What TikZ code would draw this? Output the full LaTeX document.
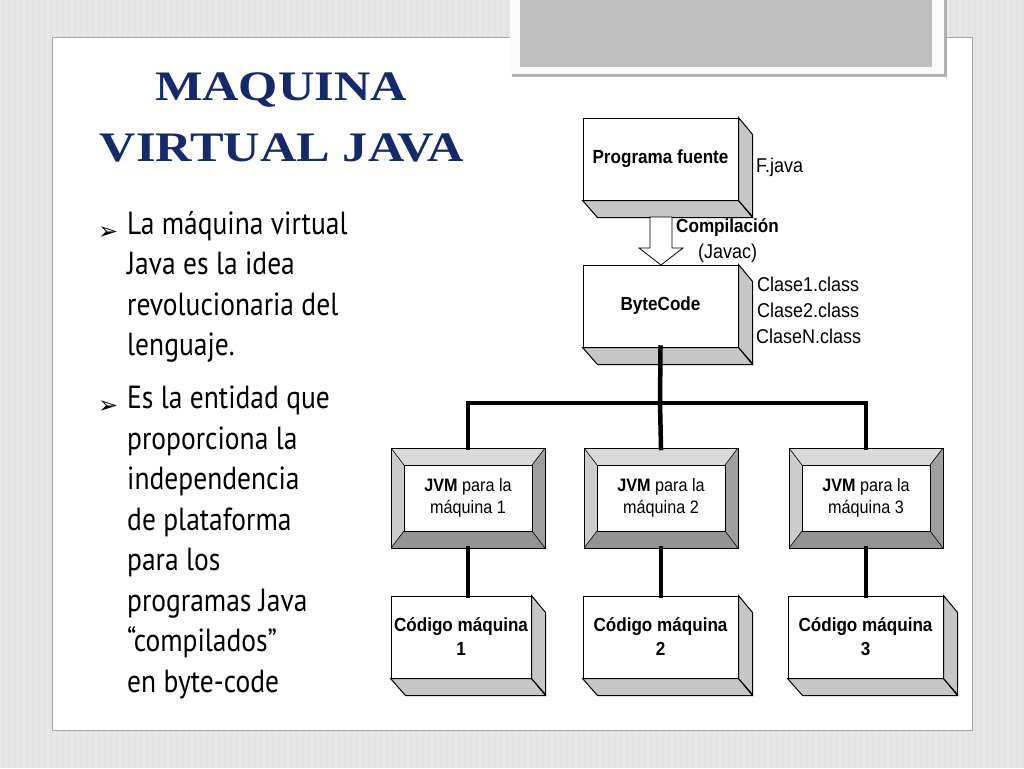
\documentclass[tikz,border=0pt]{standalone}
\usepackage{fontspec}
\setmainfont{Liberation Sans}
\newfontfamily\titlefont[FakeStretch=1.2]{Liberation Serif}
\newfontfamily\bulletfont[FakeStretch=0.86]{PT Sans}
\newfontfamily\narrowfont[FakeStretch=0.9]{Liberation Sans}
\newfontfamily\symfont{DejaVu Sans}
\usetikzlibrary{positioning, calc}
\definecolor{navy}{HTML}{142A6B}
\tikzstyle{frontbox} = [rectangle, draw=black, fill=white, line width=1pt, inner sep=0pt, font=\narrowfont\bfseries\fontsize{19}{24}\selectfont, align=center]
\tikzstyle{sideface} = [draw=black, fill=gray!45, line width=1pt]
\tikzstyle{bus} = [line width=4.5pt, line cap=rect]
\tikzstyle{note} = [font=\narrowfont\fontsize{20}{22}\selectfont, inner sep=0pt, anchor=west]
\tikzstyle{bullettext} = [font=\bulletfont\fontsize{32}{40.5}\selectfont, text=black, align=left, anchor=north west, inner sep=0pt]
% extruded box: name, front corners, depth
\newcommand{\cubebox}[6]{%
  \node (#1) [frontbox, minimum width=#4-#2, minimum height=#5-#3] at ({(#2+#4)/2},{(#3+#5)/2}) {#6};
  \draw [sideface] (#1.south west) -- (#1.south east) -- ++(14,17) -- ++(-#4+#2,0) -- cycle;
  \draw [sideface] (#1.north east) -- ++(14,17) -- ++(0,#5-#3) -- (#1.south east) -- cycle;}
% bevelled frame box
\newcommand{\bevelbox}[6]{%
  \coordinate (#1o1) at (#2,#3); \coordinate (#1o2) at (#4,#5);
  \fill [gray!30] (#2,#3) -- (#4,#3) -- (#4-13,#3+17) -- (#2+13,#3+17) -- cycle;
  \fill [gray!40] (#2,#3) -- (#2+13,#3+17) -- (#2+13,#5-17) -- (#2,#5) -- cycle;
  \fill [gray!75] (#4,#3) -- (#4,#5) -- (#4-13,#5-17) -- (#4-13,#3+17) -- cycle;
  \fill [gray!85] (#2,#5) -- (#4,#5) -- (#4-13,#5-17) -- (#2+13,#5-17) -- cycle;
  \draw [line width=1pt] (#2,#3) rectangle (#4,#5);
  \draw [line width=0.6pt] (#2,#3) -- (#2+13,#3+17) (#4,#3) -- (#4-13,#3+17) (#2,#5) -- (#2+13,#5-17) (#4,#5) -- (#4-13,#5-17);
  \node (#1) [frontbox, font=\narrowfont\fontsize{18}{22}\selectfont, minimum width=#4-#2-26, minimum height=#5-#3-34] at ({(#2+#4)/2},{(#3+#5)/2}) {#6};}

\begin{document}
\begin{tikzpicture}[x=1pt, y=-1pt]
\useasboundingbox (0,0) rectangle (1024,768);
% slide background
\fill [gray!22] (0,0) rectangle (1024,768);
\foreach \i in {0,6,...,1020} \draw [white!70!gray!60, line width=1.5pt] (\i,0) -- (\i,768);
\draw [gray!70, fill=white] (52,37) rectangle (972,730);
\fill [gray!60] (512,0) rectangle (947,77);
\fill [white!96!gray] (510,0) rectangle (944,74);
\fill [gray!50] (520,0) rectangle (932,67);
% title
\node (title1) [font=\titlefont\bfseries\fontsize{42}{44}\selectfont, text=navy] at (281,90) {MAQUINA};
\node (title2) [font=\titlefont\bfseries\fontsize{42}{44}\selectfont, text=navy] at (282,148) {VIRTUAL JAVA};
% bullets
\node (b1) [bullettext] at (127,211) {La máquina virtual\\Java es la idea\\revolucionaria del\\lenguaje.};
\node (b2) [bullettext] at (127,386) {Es la entidad que\\proporciona la\\independencia\\de plataforma\\para los\\programas Java\\“compilados”\\en byte-code};
\node (m1) [font=\symfont\fontsize{24}{24}\selectfont, anchor=west, inner sep=0pt] at (98,233) {➢};
\node (m2) [font=\symfont\fontsize{24}{24}\selectfont, anchor=west, inner sep=0pt] at (98,407) {➢};
% diagram
\cubebox{fuente}{583}{118}{738}{200}{Programa fuente}
\cubebox{bc}{583}{265}{738}{347}{ByteCode}
\draw [fill=white, line width=0.8pt] (650,217) -- (672,217) -- (672,248) -- (683,248) -- (661,265) -- (639,248) -- (650,248) -- cycle;
\node (fj) [note] at (756,167) {F.java};
\node (comp) [note, font=\narrowfont\bfseries\fontsize{19}{20}\selectfont] at (676,228) {Compilación};
\node (javac) [note] at (698,253) {(Javac)};
\node (c1) [note] at (757,284) {Clase1.class};
\node (c2) [note] at (757,310) {Clase2.class};
\node (cn) [note] at (756,336) {ClaseN.class};
\bevelbox{jvm1}{391}{448}{545}{548}{\textbf{JVM} para la\\ máquina 1}
\bevelbox{jvm2}{584}{448}{738}{548}{\textbf{JVM} para la\\ máquina 2}
\bevelbox{jvm3}{789}{448}{943}{548}{\textbf{JVM} para la\\ máquina 3}
\cubebox{cod1}{391}{596}{531}{678}{Código máquina\\1}
\cubebox{cod2}{583}{596}{738}{678}{Código máquina\\2}
\cubebox{cod3}{788}{596}{943}{678}{Código máquina\\3}
\coordinate (busc) at (660,403);
\draw [bus] (bc.south) -- (busc);
\draw [bus] (jvm1.north |- jvm1o1) |- (busc) -| (jvm3.north |- jvm3o1);
\draw [bus] (busc) -- (jvm2.north |- jvm2o1);
\draw [bus] (jvm1.south |- jvm1o2) -- (cod1.north -| jvm1.south);
\draw [bus] (jvm2.south |- jvm2o2) -- (cod2.north -| jvm2.south);
\draw [bus] (jvm3.south |- jvm3o2) -- (cod3.north -| jvm3.south);
\end{tikzpicture}
\end{document}
